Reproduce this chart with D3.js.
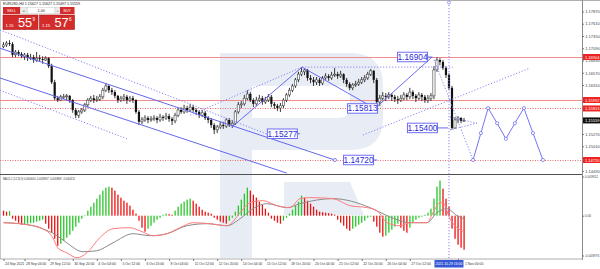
<!DOCTYPE html>
<html><head><meta charset="utf-8">
<script src="https://cdn.jsdelivr.net/npm/d3@7/dist/d3.min.js"></script>
<style>
html,body{margin:0;padding:0;background:#fff;}
svg{display:block;font-family:"Liberation Sans",Arial,sans-serif;}
</style></head><body>
<svg id="chart" width="600" height="269"></svg>
<script>
// ---------- DATA (prices in 1e-4 units, i.e. 11716 = 1.1716) ----------
const firstOpen = 11712;
const closeP = [11716,11720,11718,11695,11701,11697,11692,11695,11688,11690,
11684,11688,11686,11684,11688,11671,11637,11603,11599,11606,
11606,11608,11599,11578,11567,11574,11578,11589,11599,11603,
11599,11601,11606,11620,11629,11620,11616,11608,11599,11603,
11606,11599,11603,11599,11574,11553,11557,11561,11557,11559,
11561,11557,11563,11561,11565,11559,11555,11567,11578,11574,
11582,11578,11584,11578,11574,11567,11572,11561,11557,11546,
11536,11542,11546,11544,11557,11546,11550,11574,11589,11591,
11603,11612,11599,11591,11599,11603,11595,11599,11606,11591,
11587,11582,11587,11599,11610,11620,11629,11642,11654,11659,
11663,11646,11642,11637,11642,11635,11646,11650,11646,11652,
11654,11650,11654,11642,11633,11625,11631,11633,11637,11642,
11646,11654,11661,11642,11595,11603,11608,11606,11610,11606,
11601,11599,11603,11610,11606,11616,11608,11603,11610,11606,
11599,11603,11608,11663,11684,11680,11667,11652,11625,11540,
11557,11561,11555,11556];
const highP = [11722,11724,11726,11722,11705,11705,11701,11699,11699,11697,
11695,11701,11695,11692,11692,11690,11676,11642,11608,11610,
11612,11612,11610,11601,11582,11578,11582,11593,11603,11608,
11610,11608,11612,11625,11635,11631,11625,11620,11610,11608,
11612,11610,11608,11608,11601,11578,11563,11567,11565,11565,
11567,11565,11570,11567,11572,11570,11563,11572,11582,11584,
11589,11587,11591,11589,11582,11578,11578,11576,11565,11561,
11550,11546,11553,11553,11561,11561,11557,11578,11595,11597,
11610,11620,11616,11603,11606,11610,11608,11606,11612,11610,
11595,11591,11593,11603,11614,11625,11633,11646,11659,11669,
11667,11665,11652,11648,11648,11646,11650,11656,11654,11659,
11667,11659,11661,11656,11646,11637,11635,11640,11644,11648,
11652,11659,11665,11663,11646,11610,11616,11614,11616,11614,
11610,11608,11610,11616,11614,11625,11620,11612,11616,11614,
11610,11610,11614,11671,11690,11688,11684,11671,11656,11629,
11563,11565,11563,11561];
const lowP = [11709,11712,11714,11690,11690,11692,11688,11684,11682,11684,
11678,11680,11680,11676,11682,11667,11633,11599,11595,11597,
11601,11599,11593,11572,11561,11561,11570,11574,11584,11595,
11593,11595,11597,11601,11616,11614,11610,11603,11593,11595,
11597,11591,11595,11593,11570,11546,11548,11553,11550,11553,
11555,11550,11553,11555,11557,11553,11546,11550,11563,11570,
11570,11572,11574,11574,11567,11561,11563,11557,11550,11540,
11527,11529,11538,11538,11540,11542,11540,11546,11570,11582,
11587,11599,11595,11584,11587,11595,11589,11591,11595,11584,
11580,11576,11574,11582,11595,11606,11616,11625,11637,11650,
11652,11640,11635,11629,11631,11629,11631,11642,11640,11642,
11648,11644,11646,11635,11627,11620,11620,11627,11629,11633,
11637,11642,11650,11635,11589,11587,11599,11597,11601,11597,
11595,11591,11595,11599,11599,11601,11601,11595,11599,11597,
11593,11593,11597,11601,11659,11673,11663,11646,11620,11536,
11538,11550,11550,11553];

// MACD histogram, in 1e-4 units
const histV = [5,4,4.5,-3,-5,-7,-9,-8.5,-8,-7.5,
-7,-6,-5,-4,-8,-13,-17,-23,-30,-28,
-25,-22,-19,-15,-11,-7,-3,0.5,5,9,
13,17,21,25,28,29,28,25,21,18,
15,13,10,6,2,-5,-12,-16,-13,-10,
-7,-4,-2,1,2,1.5,1,5,9,12,
14,16,17,15,12,9,6,4,3,2,
-2,-4,-6,-7,-8,-5,-2,4,10,16,
22,28,25,21,18,14,11,7,3,-3,
-5,-7,-8,-5,-2,2,6,10,14,20,
18,15,12,9,6,4,3.5,3,2.5,2,
1,-4,-7,-10,-13,-15,-13,-11,-9,-7,
-5,-2,-1,-6,-11,-17,-21,-20,-17,-14,
-11,-8,-12,-15,-17,-12,-7,-4,-2,-1,
1,3,7,17,29,35,27,17,9,-13,
-23,-29,-32,-34];
// MACD main line (red) and signal line (grey), read at bar positions, 1e-4 units
const macdIdx = [0,10,13,16.4,18,21,24.4,27.7,32,36.4,42,45.3,49.7,54.3,58.6,63,68.6,74.3,78.6,81.9,86.2,90.9,95.2,98.5,101.8,109.5,115.1,120.8,124.1,127.4,131.7,135,140.7,142.7,145,146,148.3,150.7,153];
const macdV   = [-7,-10,-13,-22,-32,-37,-42,-37,-22,-13,-12,-15,-20,-18,-12,-7,-8,-10,3,13,15,10,8,17,18,17,10,8,5,-7,-10,-7,-7,3,13,13,-3,-12,-16];
const sigIdx = [0,5.5,12,17.8,21,26.4,31,36.4,43,48.7,54.3,61,67.6,74.3,78.6,82.9,87.5,94.2,98.5,109.5,121.8,127.4,131.7,135,140.7,144,147.3,150.7,153];
const sigV   = [-7,-8,-12,-20,-27,-36,-35,-27,-18,-20,-18,-10,-8,-10,-3,7,12,8,12,17,8,0,-5,-7,-7,3,7,0,-3];

// axes (labels that sit behind the coloured price tags are not listed)
const priceTicks = [1.17870,1.17610,1.17350,1.17090,1.16830,1.16570,1.16310,1.15270,1.15010,1.14490];
const macdTicks = [0.003912,0,-0.003976];
const macdTickLabels = ["0.003912","0.00","-0.003976"];
const timeIdx = [0,7,15,23,31,39,47,55,63,71,79,87,95,103,111,119,127,135,151];
const timeLabels = ["24 Sep 2021","28 Sep 04:00","29 Sep 12:00","30 Sep 20:00","4 Oct 04:00","5 Oct 12:00","6 Oct 20:00","8 Oct 04:00","11 Oct 12:00","12 Oct 20:00","14 Oct 04:00","15 Oct 12:00","18 Oct 20:00","20 Oct 04:00","21 Oct 12:00","22 Oct 20:00","26 Oct 04:00","27 Oct 12:00","1 Nov 00:00"];
const crossIdx = 148;
const crossLabel = "2021.10.29 16:00";

// horizontal levels
const levelSolid = [1.16904,1.15992];
const levelDotted = [1.15813,1.14720];
const axisTagPrice = [1.16904,1.15992,1.15813,1.15559,1.14720];
const axisTagKind = ["level","level","level","bid","level"];

// drawn analysis objects: [barIndex, price]
const channelSolid = [[[-1.2,1.1709],[110.1,1.1472]], [[-1.2,1.1646],[94.2,1.1444]]];
const channelDotted = [[[-1.2,1.1748],[87.5,1.1527]], [[-1.2,1.1620],[41,1.1517]]];
const waveSolid = [[75.9,1.1542],[99.2,1.1669],[123.4,1.15813],[142.4,1.16904]];
const dottedLines = [
  [[62,1.1567],[99.2,1.1669]],
  [[99.2,1.1669],[149.3,1.1669]],
  [[119.4,1.1525],[174.9,1.1667]],
  [[148.3,1.1563],[157.3,1.1550]],
  [[148.3,1.1536],[157.3,1.1550]],
  [[142.7,1.16904],[156,1.1472]]
];
const forecastIdx = [156,158.6,161,164,166.9,169.9,172.9,175.9,179.2];
const forecastP   = [1.1472,1.1529,1.1582,1.1550,1.1517,1.1550,1.1582,1.1529,1.1472];
const tagTexts = ["1.16904","1.15813","1.15277","1.14720","1.15400"];
const tagIdx   = [140.7,124.1,87.5,112.8,144];
const tagPrice = [1.16904,1.15813,1.15277,1.14720,1.15400];
const tagSide  = ["end","end","start","start","end"];
const tagLead  = [142.4,null,98.5,124.1,147.7];

// header / trade panel texts
const headerText = "EURUSD,H4  1.15627 1.15627 1.15497 1.15559";
const sellBig = ["1.15","55","9"];
const buyBig  = ["1.15","57","6"];
const lotText = "1.00";
const macdTitle = "MACD-2 (12,26,9) 0.0000000 -0.0028907 -0.0018867 -0.0004211";

// ---------- DRAWING ----------
const svg = d3.select('#chart');
const PR = 582, MT = 2, MB = 173.5, QT = 175, QB = 258.5;
const x = d3.scaleLinear().domain([0,1]).range([3.5,6.51]);
const y = d3.scaleLinear().domain([1.16904,1.14720]).range([57,160]);
const ym = d3.scaleLinear().domain([0.003912,-0.003976]).range([176.5,255.5]);
const crisp = v => Math.round(v)+0.5;

const defs = svg.append('defs');
defs.append('clipPath').attr('id','cm').append('rect').attr('x',0).attr('y',MT).attr('width',PR).attr('height',MB-MT);
defs.append('clipPath').attr('id','cq').append('rect').attr('x',0).attr('y',QT).attr('width',PR).attr('height',QB-QT);

// watermark logo
const wm = '#e8edf5';
svg.append('path').attr('fill',wm).attr('fill-rule','evenodd')
  .attr('d','M220,53H350Q383,53 383,86V118Q383,150 350,150H252V258H220Z M252,86H338Q350,86 350,98V106Q350,118 338,118H252Z');
svg.append('path').attr('fill',wm).attr('d','M284,182H350L364,215H284Z');

// frame lines
svg.append('line').attr('x1',0).attr('x2',600).attr('y1',0.5).attr('y2',0.5).attr('stroke','#b0b0b0');
svg.append('line').attr('x1',0.5).attr('x2',0.5).attr('y1',0).attr('y2',259).attr('stroke','#c8c8c8');

const gm = svg.append('g').attr('clip-path','url(#cm)');

// red levels
gm.selectAll('line.ls').data(levelSolid).join('line')
  .attr('x1',0).attr('x2',PR).attr('y1',d=>crisp(y(d))).attr('y2',d=>crisp(y(d)))
  .attr('stroke','#f28b8b').attr('stroke-width',1.1);
gm.selectAll('line.ld').data(levelDotted).join('line')
  .attr('x1',0).attr('x2',PR).attr('y1',d=>crisp(y(d))).attr('y2',d=>crisp(y(d)))
  .attr('stroke','#ee6a6a').attr('stroke-width',1).attr('stroke-dasharray','1,1.5');

// candles
const openP = [firstOpen].concat(closeP.slice(0,-1));
const bars = closeP.map((c,i)=>({i,o:openP[i]/1e4,c:c/1e4,h:highP[i]/1e4,l:lowP[i]/1e4}));
gm.selectAll('line.wk').data(bars).join('line')
  .attr('x1',d=>x(d.i)).attr('x2',d=>x(d.i)).attr('y1',d=>y(d.h)).attr('y2',d=>y(d.l))
  .attr('stroke','#222').attr('stroke-width',0.9);
gm.selectAll('rect.bd').data(bars).join('rect')
  .attr('x',d=>x(d.i)-1.1).attr('width',2.2)
  .attr('y',d=>y(Math.max(d.o,d.c))).attr('height',d=>Math.max(0.8,Math.abs(y(d.o)-y(d.c))))
  .attr('fill',d=>d.c>=d.o?'#fff':'#111').attr('stroke',d=>d.c>=d.o?'#444':'none').attr('stroke-width',0.6);

// analysis lines
const lp = d3.line().x(d=>x(d[0])).y(d=>y(d[1]));
gm.selectAll('path.cs').data(channelSolid).join('path').attr('d',lp)
  .attr('fill','none').attr('stroke','#6666ee').attr('stroke-width',1);
gm.selectAll('path.cd').data(channelDotted).join('path').attr('d',lp)
  .attr('fill','none').attr('stroke','#8080f5').attr('stroke-width',1).attr('stroke-dasharray','1.2,1.8');
gm.selectAll('path.dl').data(dottedLines).join('path').attr('d',lp)
  .attr('fill','none').attr('stroke','#8585f5').attr('stroke-width',1).attr('stroke-dasharray','1.2,1.8');
gm.append('path').datum(waveSolid).attr('d',lp)
  .attr('fill','none').attr('stroke','#6a6af0').attr('stroke-width',1);
const fc = forecastIdx.map((d,i)=>[d,forecastP[i]]);
gm.append('path').datum(fc).attr('d',lp).attr('fill','none').attr('stroke','#7474f5').attr('stroke-width',1);
gm.selectAll('circle.fc').data(fc).join('circle').attr('cx',d=>x(d[0])).attr('cy',d=>y(d[1])).attr('r',1.6)
  .attr('fill','#fff').attr('stroke','#7474f5').attr('stroke-width',0.8);
const chEnd = channelSolid[0][1];
gm.append('circle').attr('cx',x(chEnd[0])).attr('cy',y(chEnd[1])).attr('r',1.6)
  .attr('fill','#fff').attr('stroke','#6666ee').attr('stroke-width',0.8);

// price tag boxes
const bw = 30, bh = 9.5;
tagTexts.forEach((t,k)=>{
  const ax = x(tagIdx[k]); const bx = tagSide[k]==='end' ? ax-bw : ax; const yy = y(tagPrice[k]);
  if (tagLead[k]!==null) gm.append('line').attr('x1',bx+bw).attr('x2',x(tagLead[k])).attr('y1',yy).attr('y2',yy)
    .attr('stroke','#6a6af0').attr('stroke-width',1);
  gm.append('rect').attr('x',bx+0.5).attr('y',yy-bh/2).attr('width',bw).attr('height',bh)
    .attr('fill','#fff').attr('stroke','#6f6ff5').attr('stroke-width',1);
  gm.append('text').attr('x',bx+bw/2+0.5).attr('y',yy+3).attr('text-anchor','middle')
    .attr('font-size',8.3).attr('fill','#2a2ad6').text(t);
});

// separators
svg.append('line').attr('x1',0).attr('x2',PR).attr('y1',174.5).attr('y2',174.5).attr('stroke','#505050').attr('stroke-width',1.2);
svg.append('line').attr('x1',0).attr('x2',PR).attr('y1',259).attr('y2',259).attr('stroke','#9a9a9a').attr('stroke-width',0.8);
svg.append('line').attr('x1',PR+0.5).attr('x2',PR+0.5).attr('y1',0).attr('y2',260).attr('stroke','#8c8c8c').attr('stroke-width',1);

// MACD panel
const gq = svg.append('g').attr('clip-path','url(#cq)');
gq.selectAll('rect.h').data(histV).join('rect')
  .attr('x',(d,i)=>x(i)-0.6).attr('width',1.3)
  .attr('y',d=>Math.min(ym(d/1e4),ym(0))).attr('height',d=>Math.max(0.5,Math.abs(ym(d/1e4)-ym(0))))
  .attr('fill',(d,i)=> (i>0 && d>=histV[i-1]) ? '#29c629' : '#ee1111');
const ml = d3.line().x(d=>x(d[0])).y(d=>ym(d[1]/1e4)).curve(d3.curveMonotoneX);
gq.append('path').datum(sigIdx.map((d,i)=>[d,sigV[i]])).attr('d',ml).attr('fill','none').attr('stroke','#8a8a8a').attr('stroke-width',1);
gq.append('path').datum(macdIdx.map((d,i)=>[d,macdV[i]])).attr('d',ml).attr('fill','none').attr('stroke','#ff7a7a').attr('stroke-width',1);
svg.append('text').attr('x',3).attr('y',179.8).attr('font-size',4).attr('fill','#333')
  .attr('textLength',72).attr('lengthAdjust','spacingAndGlyphs').text(macdTitle);

// crosshair vertical line
svg.append('line').attr('x1',x(crossIdx)).attr('x2',x(crossIdx)).attr('y1',2).attr('y2',260)
  .attr('stroke','#8585f5').attr('stroke-width',1).attr('stroke-dasharray','1.2,1.8');
svg.append('circle').attr('cx',x(crossIdx)).attr('cy',2.5).attr('r',1.5).attr('fill','#fff').attr('stroke','#8585f5').attr('stroke-width',0.8);

// right price axis
const ra = svg.append('g').attr('transform',`translate(${PR},0)`)
  .call(d3.axisRight(y).tickValues(priceTicks).tickSize(2).tickPadding(1.2).tickFormat(d3.format('.5f')));
ra.select('.domain').remove();
ra.selectAll('line').attr('stroke','#777');
ra.selectAll('text').attr('font-size',4).attr('fill','#444');
const qa = svg.append('g').attr('transform',`translate(${PR},0)`)
  .call(d3.axisRight(ym).tickValues(macdTicks).tickSize(2).tickPadding(0.8).tickFormat((d,i)=>macdTickLabels[i]));
qa.select('.domain').remove();
qa.selectAll('line').attr('stroke','#777');
qa.selectAll('text').attr('font-size',3.2).attr('fill','#444');

// axis tags
axisTagPrice.forEach((p,k)=>{
  const yy = y(p);
  svg.append('rect').attr('x',PR+1).attr('y',yy-3).attr('width',18).attr('height',6)
    .attr('fill',axisTagKind[k]==='bid'?'#111':'#ee2222');
  svg.append('text').attr('x',PR+3).attr('y',yy+1.5).attr('font-size',4).attr('fill','#fff')
    .attr('textLength',14.5).attr('lengthAdjust','spacingAndGlyphs').text(d3.format('.5f')(p));
});

// time axis
const boxL = x(crossIdx)-14.5, boxR = x(crossIdx)+14.5;
const ta = svg.append('g').attr('transform','translate(0,259)')
  .call(d3.axisBottom(x).tickValues(timeIdx).tickSize(2).tickPadding(1.5).tickFormat((d,i)=>timeLabels[i]));
ta.select('.domain').remove();
ta.selectAll('line').attr('stroke','#777');
ta.selectAll('text').attr('font-size',3.4).attr('fill','#333').attr('text-anchor','start')
  .attr('x',d=>{ const px = x(d); return (px+1 > boxL-18 && px+1 < boxR) ? (boxR+1-px) : 1; });
svg.append('rect').attr('x',boxL).attr('y',260).attr('width',29).attr('height',7.5).attr('fill','#3558d6');
svg.append('text').attr('x',x(crossIdx)).attr('y',265.3).attr('text-anchor','middle').attr('font-size',3.8)
  .attr('fill','#fff').attr('textLength',27).attr('lengthAdjust','spacingAndGlyphs').text(crossLabel);

// header & trade panel
svg.append('text').attr('x',3).attr('y',5.3).attr('font-size',3.8).attr('fill','#222')
  .attr('textLength',77).attr('lengthAdjust','spacingAndGlyphs').text(headerText);
const red = '#d42b2b';
const tp = svg.append('g');
tp.append('rect').attr('x',3).attr('y',7).attr('width',17).attr('height',7).attr('fill',red);
tp.append('text').attr('x',11.5).attr('y',11.8).attr('text-anchor','middle').attr('font-size',3.6).attr('fill','#fff').text('SELL');
tp.append('rect').attr('x',20.5).attr('y',7.5).attr('width',6.5).attr('height',6).attr('fill','#ececec').attr('stroke','#c8c8c8').attr('stroke-width',0.5);
tp.append('text').attr('x',23.7).attr('y',11.8).attr('text-anchor','middle').attr('font-size',3.6).attr('fill','#555').text('=');
tp.append('rect').attr('x',27.5).attr('y',7.5).attr('width',27.5).attr('height',6).attr('fill','#fff').attr('stroke','#c8c8c8').attr('stroke-width',0.5);
tp.append('text').attr('x',41.2).attr('y',11.8).attr('text-anchor','middle').attr('font-size',3.8).attr('fill','#333').text(lotText);
tp.append('rect').attr('x',55).attr('y',7.5).attr('width',5).attr('height',6).attr('fill','#ececec').attr('stroke','#c8c8c8').attr('stroke-width',0.5);
tp.append('text').attr('x',57.5).attr('y',11.8).attr('text-anchor','middle').attr('font-size',3.6).attr('fill','#555').text('+');
tp.append('rect').attr('x',60).attr('y',7).attr('width',14.5).attr('height',7).attr('fill',red);
tp.append('text').attr('x',67.2).attr('y',11.8).attr('text-anchor','middle').attr('font-size',3.6).attr('fill','#fff').text('BUY');
[[3,sellBig],[39.5,buyBig]].forEach(([bx,t])=>{
  tp.append('rect').attr('x',bx).attr('y',15).attr('width',35).attr('height',14.5).attr('fill',red).attr('stroke','#a81818').attr('stroke-width',0.6);
  tp.append('text').attr('x',bx+2.5).attr('y',26.5).attr('font-size',4.2).attr('fill','#fff').text(t[0]);
  tp.append('text').attr('x',bx+15).attr('y',27.3).attr('font-size',12.8).attr('fill','#fff').text(t[1]);
  tp.append('text').attr('x',bx+29.5).attr('y',20.8).attr('font-size',4.6).attr('fill','#fff').text(t[2]);
});
</script></body></html>
